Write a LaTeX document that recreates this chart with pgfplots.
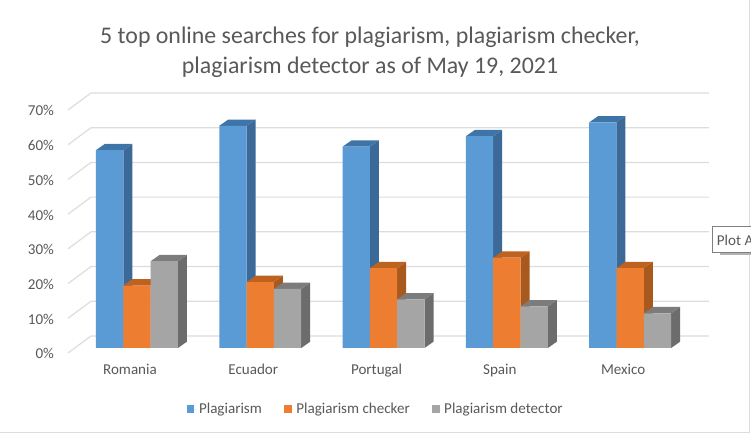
\documentclass[border=0pt]{standalone}
\usepackage{fontspec}
\setmainfont{Carlito}
\usepackage{pgfplots}
\pgfplotsset{compat=1.18}
\usepackage{pgfplotstable}

\definecolor{txt}{HTML}{595959}
\definecolor{gridc}{HTML}{DDDDDD}
\definecolor{blu}{HTML}{5B9BD5}
\definecolor{bluS}{HTML}{3B6A98}
\definecolor{bluT}{HTML}{3F74A8}
\definecolor{ora}{HTML}{ED7D31}
\definecolor{oraS}{HTML}{A85A1E}
\definecolor{oraT}{HTML}{BE6220}
\definecolor{gry}{HTML}{A5A5A5}
\definecolor{gryS}{HTML}{6C6C6C}
\definecolor{gryT}{HTML}{7C7C7C}

% category, plagiarism, checker, detector
\pgfplotstableread{
x  plag check detect
0  57   18    25
1  64   19    17
2  58   23    14
3  61   26    12
4  65   23    10
}\searches

% side and top of one bar: category, bar centre offset, value, side colour, top colour
\newcommand{\barfaces}[5]{%
  \pgfmathsetmacro\xl{#1+#2-0.1107}%
  \pgfmathsetmacro\xr{#1+#2+0.1107}%
  \pgfmathsetmacro\xld{\xl+0.073}%
  \pgfmathsetmacro\xrd{\xr+0.073}%
  \pgfmathsetmacro\vd{#3+1.82}%
  \edef\tmp{%
    \noexpand\addplot[fill=#4,draw=none,forget plot] coordinates {(\xr,0) (\xrd,1.82) (\xrd,\vd) (\xr,#3)} --cycle;
    \noexpand\addplot[fill=#5,draw=none,forget plot] coordinates {(\xl,#3) (\xld,\vd) (\xrd,\vd) (\xr,#3)} --cycle;
  }\tmp
}

\pgfplotsset{
  sqr/.style={legend image code/.code={\fill[##1] (0pt,-2.9pt) rectangle (5.8pt,2.9pt);\path (0pt,0pt) -- (7.3pt,0pt);}},
}

\begin{document}
\begin{tikzpicture}
\path[use as bounding box] (0,0) rectangle (563.25pt,328.5pt);
\fill[white] (0,0) rectangle (563.25pt,328.5pt);
\draw[gridc,line width=0.8pt] (0,3.9pt) -- (561.8pt,3.9pt) -- (561.8pt,328.5pt);

\begin{axis}[
  at={(51pt,63.75pt)},anchor=south west,
  scale only axis,width=480.75pt,height=195pt,
  xmin=-0.5028,xmax=4.696,ymin=-1.44,ymax=73.46,
  clip=false,
  axis line style={draw=none},
  major tick length=0pt,
  xtick={0,1,2,3,4},
  xticklabels={Romania,Ecuador,Portugal,Spain,Mexico},
  ytick={-1.44,8.56,18.56,28.56,38.56,48.56,58.56,68.56},
  yticklabels={0\%,10\%,20\%,30\%,40\%,50\%,60\%,70\%},
  tick label style={font=\fontsize{11.3pt}{13pt}\selectfont,text=txt},
  xticklabel style={yshift=-5pt},
  yticklabel style={xshift=-7pt,yshift=-0.6pt},
  legend columns=3,
  legend style={at={(0.4805,-0.2165)},anchor=center,draw=none,fill=none,
    font=\fontsize{11.3pt}{13pt}\selectfont,text=txt,
    /tikz/every even column/.style={column sep=14.5pt}},
]
% back wall and left wall lines
\addplot[gridc,line width=0.9pt,forget plot,unbounded coords=jump] coordinates {
 (-0.3163,3.46) (4.696,3.46) (0,nan)
 (-0.3163,13.46) (4.696,13.46) (0,nan)
 (-0.3163,23.46) (4.696,23.46) (0,nan)
 (-0.3163,33.46) (4.696,33.46) (0,nan)
 (-0.3163,43.46) (4.696,43.46) (0,nan)
 (-0.3163,53.46) (4.696,53.46) (0,nan)
 (-0.3163,63.46) (4.696,63.46) (0,nan)
 (-0.3163,73.46) (4.696,73.46) (0,nan)
 (-0.5028,-1.44) (-0.3163,3.46) (0,nan)
 (-0.5028,8.56) (-0.3163,13.46) (0,nan)
 (-0.5028,18.56) (-0.3163,23.46) (0,nan)
 (-0.5028,28.56) (-0.3163,33.46) (0,nan)
 (-0.5028,38.56) (-0.3163,43.46) (0,nan)
 (-0.5028,48.56) (-0.3163,53.46) (0,nan)
 (-0.5028,58.56) (-0.3163,63.46) (0,nan)
 (-0.5028,68.56) (-0.3163,73.46)
};

% Plagiarism
\barfaces{0}{-0.165}{57}{bluS}{bluT}
\barfaces{1}{-0.165}{64}{bluS}{bluT}
\barfaces{2}{-0.165}{58}{bluS}{bluT}
\barfaces{3}{-0.165}{61}{bluS}{bluT}
\barfaces{4}{-0.165}{65}{bluS}{bluT}
\addplot[ybar,sqr,bar width=0.2214,bar shift=-0.165,fill=blu,draw=none] table[x=x,y=plag] {\searches};
\addlegendentry{Plagiarism}

% Plagiarism checker
\barfaces{0}{0.0568}{18}{oraS}{oraT}
\barfaces{1}{0.0568}{19}{oraS}{oraT}
\barfaces{2}{0.0568}{23}{oraS}{oraT}
\barfaces{3}{0.0568}{26}{oraS}{oraT}
\barfaces{4}{0.0568}{23}{oraS}{oraT}
\addplot[ybar,sqr,bar width=0.2214,bar shift=0.0568,fill=ora,draw=none] table[x=x,y=check] {\searches};
\addlegendentry{Plagiarism checker}

% Plagiarism detector
\barfaces{0}{0.2782}{25}{gryS}{gryT}
\barfaces{1}{0.2782}{17}{gryS}{gryT}
\barfaces{2}{0.2782}{14}{gryS}{gryT}
\barfaces{3}{0.2782}{12}{gryS}{gryT}
\barfaces{4}{0.2782}{10}{gryS}{gryT}
\addplot[ybar,sqr,bar width=0.2214,bar shift=0.2782,fill=gry,draw=none] table[x=x,y=detect] {\searches};
\addlegendentry{Plagiarism detector}
\end{axis}

\node[align=center,text=txt,font=\fontsize{17.9pt}{22.5pt}\selectfont] at (277.5pt,289pt)
  {5 top online searches for plagiarism, plagiarism checker,\\plagiarism detector as of May 19, 2021};

% tooltip left over in the screenshot
\begin{scope}
\clip (0,0) rectangle (563.25pt,328.5pt);
\fill[gray!60] (540pt,137pt) rectangle (563.25pt,139pt);
\draw[gray,fill=white,line width=0.4pt] (534.2pt,139.5pt) rectangle (570pt,158.5pt);
\node[anchor=west,text=txt,font=\fontsize{11.3pt}{13pt}\selectfont,inner sep=0pt] at (537.5pt,148.5pt) {Plot A};
\end{scope}
\end{tikzpicture}
\end{document}
